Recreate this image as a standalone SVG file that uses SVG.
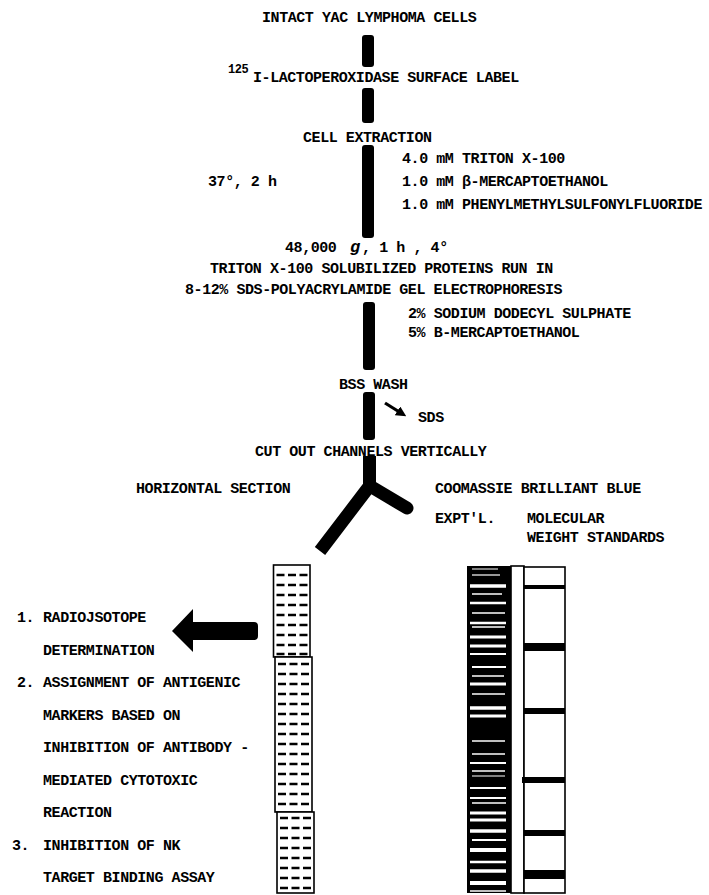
<svg xmlns="http://www.w3.org/2000/svg" width="709" height="895" viewBox="0 0 709 895">
<style>
.t{font-family:"Liberation Mono","Courier New",monospace;font-size:15px;font-weight:bold;letter-spacing:-0.43px;fill:#000}
.sup{font-size:12px;letter-spacing:-0.5px}
.bar{fill:#000}
.br{fill:none;stroke:#000;stroke-width:13}
.dash{stroke:#000;stroke-width:2.6;stroke-dasharray:8 3.5}
.stripe{stroke:#fff;stroke-width:2.4}
.band{fill:#000}
.outline{fill:#fff;stroke:#000;stroke-width:1.6}
</style>
<defs>
<marker id="ah" viewBox="0 0 10 10" refX="4" refY="5" markerWidth="3.2" markerHeight="3.2" orient="auto" markerUnits="strokeWidth">
<path d="M0 0 L10 5 L0 10 Z" fill="#000"/>
</marker>
</defs>
<rect width="709" height="895" fill="#fff"/>

<g id="connectors">
<rect class="bar" x="362" y="35" width="12" height="32" rx="3"/>
<rect class="bar" x="362" y="88" width="12" height="35" rx="3"/>
<rect class="bar" x="362" y="145" width="12" height="93" rx="3"/>
<rect class="bar" x="363" y="302" width="12" height="68" rx="3"/>
<rect class="bar" x="363" y="392" width="12" height="48" rx="3"/>
<path class="br" d="M369.5 456 L369.5 486 L320 551" stroke-linejoin="round"/>
<path class="br" d="M370 486 L407 508" stroke-width="12" stroke-linecap="round"/>
<line x1="385" y1="403" x2="401" y2="413" stroke="#000" stroke-width="3.2" marker-end="url(#ah)"/>
<path d="M172 631 L193 609 L193 622 L254 622 Q258 622 258 626 L258 636 Q258 640 254 640 L193 640 L193 652 Z" fill="#000"/>
</g>

<g id="n-intact"><text class="t" x="262" y="22">INTACT YAC LYMPHOMA CELLS</text></g>
<g id="n-label"><text class="t" x="253" y="82"><tspan class="sup" x="228" y="73">125</tspan><tspan x="253" y="82">I-LACTOPEROXIDASE SURFACE LABEL</tspan></text></g>
<g id="n-extraction"><text class="t" x="303" y="142">CELL EXTRACTION</text></g>
<g id="n-reagents">
<text class="t" x="402" y="163">4.0 mM TRITON X-100</text>
<text class="t" x="402" y="186">1.0 mM β-MERCAPTOETHANOL</text>
<text class="t" x="402" y="209">1.0 mM PHENYLMETHYLSULFONYLFLUORIDE</text>
</g>
<g id="n-temp"><text class="t" x="208" y="186">37°, 2 h</text></g>
<g id="n-spin"><text class="t" x="285" y="252">48,000 <tspan x="350" font-style="italic" font-size="17">g</tspan><tspan x="362">, 1 h , 4°</tspan></text></g>
<g id="n-triton">
<text class="t" x="210" y="273">TRITON X-100 SOLUBILIZED PROTEINS RUN IN</text>
<text class="t" x="185" y="294">8-12% SDS-POLYACRYLAMIDE GEL ELECTROPHORESIS</text>
</g>
<g id="n-sds-reagents">
<text class="t" x="408" y="318">2% SODIUM DODECYL SULPHATE</text>
<text class="t" x="408" y="337">5% B-MERCAPTOETHANOL</text>
</g>
<g id="n-bss"><text class="t" x="339" y="389">BSS WASH</text></g>
<g id="n-sds"><text class="t" x="418" y="422">SDS</text></g>
<g id="n-cut"><text class="t" x="255" y="456">CUT OUT CHANNELS VERTICALLY</text></g>
<g id="n-horizontal"><text class="t" x="136" y="493">HORIZONTAL SECTION</text></g>
<g id="n-coomassie">
<text class="t" x="435" y="493">COOMASSIE BRILLIANT BLUE</text>
<text class="t" x="435" y="523">EXPT'L.</text>
<text class="t" x="527" y="523">MOLECULAR</text>
<text class="t" x="527" y="542">WEIGHT STANDARDS</text>
</g>

<g id="n-uses">
<text class="t" x="17" y="622">1.</text><text class="t" x="43" y="622">RADIOJSOTOPE</text>
<text class="t" x="43" y="654.5">DETERMINATION</text>
<text class="t" x="17" y="687">2.</text><text class="t" x="43" y="687">ASSIGNMENT OF ANTIGENIC</text>
<text class="t" x="43" y="719.5">MARKERS BASED ON</text>
<text class="t" x="43" y="752">INHIBITION OF ANTIBODY -</text>
<text class="t" x="43" y="784.5">MEDIATED CYTOTOXIC</text>
<text class="t" x="43" y="817">REACTION</text>
<text class="t" x="12" y="849.5">3.</text><text class="t" x="43" y="849.5">INHIBITION OF NK</text>
<text class="t" x="43" y="882">TARGET BINDING ASSAY</text>
</g>

<g id="gel-horizontal">
<rect class="outline" x="273.5" y="565" width="36.5" height="92"/>
<rect class="outline" x="275" y="657" width="37" height="155"/>
<rect class="outline" x="277" y="812" width="37" height="81"/>
<g class="dash">
<line x1="276.5" y1="575" x2="308" y2="575"/>
<line x1="276.5" y1="585" x2="308" y2="585"/>
<line x1="276.5" y1="595" x2="308" y2="595"/>
<line x1="276.5" y1="605" x2="308" y2="605"/>
<line x1="276.5" y1="615" x2="308" y2="615"/>
<line x1="276.5" y1="625" x2="308" y2="625"/>
<line x1="276.5" y1="635" x2="308" y2="635"/>
<line x1="276.5" y1="645" x2="308" y2="645"/>
<line x1="276.5" y1="654" x2="308" y2="654"/>
<line x1="278" y1="664" x2="310" y2="664"/>
<line x1="278" y1="674" x2="310" y2="674"/>
<line x1="278" y1="684" x2="310" y2="684"/>
<line x1="278" y1="694" x2="310" y2="694"/>
<line x1="278" y1="704" x2="310" y2="704"/>
<line x1="278" y1="714" x2="310" y2="714"/>
<line x1="278" y1="724" x2="310" y2="724"/>
<line x1="278" y1="734" x2="310" y2="734"/>
<line x1="278" y1="744" x2="310" y2="744"/>
<line x1="278" y1="754" x2="310" y2="754"/>
<line x1="278" y1="764" x2="310" y2="764"/>
<line x1="278" y1="774" x2="310" y2="774"/>
<line x1="278" y1="784" x2="310" y2="784"/>
<line x1="278" y1="794" x2="310" y2="794"/>
<line x1="278" y1="804" x2="310" y2="804"/>
<line x1="280" y1="818" x2="312" y2="818"/>
<line x1="280" y1="828" x2="312" y2="828"/>
<line x1="280" y1="838" x2="312" y2="838"/>
<line x1="280" y1="848" x2="312" y2="848"/>
<line x1="280" y1="858" x2="312" y2="858"/>
<line x1="280" y1="868" x2="312" y2="868"/>
<line x1="280" y1="878" x2="312" y2="878"/>
<line x1="280" y1="888" x2="312" y2="888"/>
</g>
</g>

<g id="gel-coomassie">
<rect x="467" y="566" width="44" height="327" fill="#000"/>
<g class="stripe">
<line x1="472" y1="569" x2="498" y2="569" stroke-width="1"/>
<line x1="472" y1="575" x2="500" y2="575" stroke-width="1.2"/>
<line x1="470" y1="586" x2="506" y2="586" stroke-width="3.5"/>
<line x1="472" y1="594" x2="502" y2="594" stroke-width="1.5"/>
<line x1="470" y1="603" x2="506" y2="603"/>
<line x1="472" y1="613" x2="505" y2="613" stroke-width="1.5"/>
<line x1="470" y1="623" x2="506" y2="623"/>
<line x1="472" y1="627" x2="505" y2="627" stroke-width="1.5"/>
<line x1="470" y1="637" x2="506" y2="637" stroke-width="3"/>
<line x1="470" y1="646" x2="506" y2="646" stroke-width="3"/>
<line x1="470" y1="654" x2="506" y2="654" stroke-width="2"/>
<line x1="472" y1="667" x2="506" y2="667" stroke-width="2"/>
<line x1="472" y1="676" x2="504" y2="676" stroke-width="1.5"/>
<line x1="470" y1="684" x2="506" y2="684" stroke-width="3"/>
<line x1="472" y1="694" x2="505" y2="694" stroke-width="1.5"/>
<line x1="470" y1="708" x2="506" y2="708" stroke-width="3.5"/>
<line x1="470" y1="716" x2="506" y2="716" stroke-width="3"/>
<line x1="472" y1="741" x2="505" y2="741" stroke-width="1.5"/>
<line x1="472" y1="754" x2="505" y2="754" stroke-width="1.5"/>
<line x1="470" y1="763" x2="506" y2="763" stroke-width="2"/>
<line x1="472" y1="771" x2="505" y2="771" stroke-width="1.5"/>
<line x1="472" y1="776" x2="505" y2="776" stroke-width="1.2"/>
<line x1="470" y1="788" x2="506" y2="788" stroke-width="2"/>
<line x1="470" y1="798" x2="506" y2="798" stroke-width="2"/>
<line x1="472" y1="803" x2="506" y2="803" stroke-width="1.5"/>
<line x1="470" y1="813" x2="506" y2="813" stroke-width="3"/>
<line x1="470" y1="820" x2="506" y2="820" stroke-width="3"/>
<line x1="470" y1="831" x2="506" y2="831" stroke-width="3.5"/>
<line x1="472" y1="840" x2="506" y2="840" stroke-width="2"/>
<line x1="470" y1="850" x2="506" y2="850" stroke-width="4"/>
<line x1="470" y1="862" x2="506" y2="862" stroke-width="2.5"/>
<line x1="470" y1="871" x2="506" y2="871" stroke-width="3.5"/>
<line x1="470" y1="883" x2="506" y2="883" stroke-width="4"/>
<line x1="470" y1="891" x2="506" y2="891" stroke-width="1.5"/>
</g>
<rect class="outline" x="511" y="566" width="13" height="327"/>
<rect class="outline" x="524" y="567" width="41" height="326"/>
<rect class="band" x="524" y="585" width="41" height="4"/>
<rect class="band" x="524" y="643" width="41" height="8"/>
<rect class="band" x="524" y="708" width="41" height="6"/>
<rect class="band" x="522" y="777" width="43" height="6"/>
<rect class="band" x="524" y="830" width="41" height="6"/>
<rect class="band" x="524" y="870" width="41" height="9"/>
</g>
</svg>
